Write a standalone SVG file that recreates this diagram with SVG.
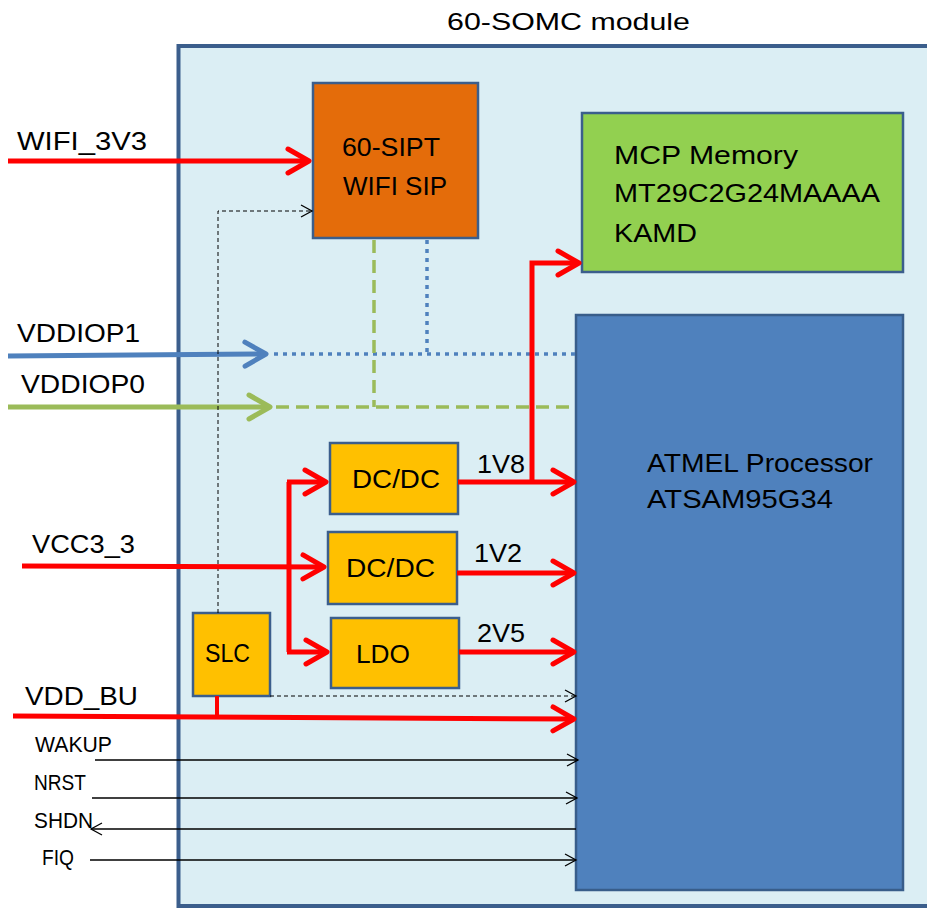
<svg xmlns="http://www.w3.org/2000/svg" width="927" height="909" viewBox="0 0 927 909">
<style>
text{font-family:"Liberation Sans",Arial,sans-serif;fill:#000;}
.big{font-size:26px;}
.sm{font-size:22.5px;}
.box{stroke:#3B5E8C;stroke-width:2.5;}
.red{stroke:#FF0000;stroke-width:5;fill:none;}
.thin{stroke:#000;stroke-width:1.3;fill:none;}
.dash{stroke:#000;stroke-width:1;fill:none;stroke-dasharray:4 3;}
</style>
<defs>
<marker id="aR" markerUnits="userSpaceOnUse" markerWidth="30" markerHeight="30" refX="0" refY="0" orient="auto" overflow="visible"><path d="M-21,-12 L0,0 L-21,12" fill="none" stroke="#FF0000" stroke-width="5" stroke-linecap="round" stroke-linejoin="round"/></marker>
<marker id="aB" markerUnits="userSpaceOnUse" markerWidth="30" markerHeight="30" refX="0" refY="0" orient="auto" overflow="visible"><path d="M-21,-12 L0,0 L-21,12" fill="none" stroke="#4F81BD" stroke-width="5" stroke-linecap="round" stroke-linejoin="round"/></marker>
<marker id="aG" markerUnits="userSpaceOnUse" markerWidth="30" markerHeight="30" refX="0" refY="0" orient="auto" overflow="visible"><path d="M-21,-12 L0,0 L-21,12" fill="none" stroke="#9BBB59" stroke-width="5" stroke-linecap="round" stroke-linejoin="round"/></marker>
<marker id="aK" markerUnits="userSpaceOnUse" markerWidth="20" markerHeight="20" refX="0" refY="0" orient="auto" overflow="visible"><path d="M-11,-6 L0,0 L-11,6" fill="none" stroke="#000" stroke-width="1.3"/></marker>
</defs>
<rect width="927" height="909" fill="#FFFFFF"/>
<g id="module">
<rect x="178.5" y="46" width="760" height="860" fill="#DBEEF4" stroke="#3B5E8C" stroke-width="4"/>
<text x="447" y="30" font-size="24" textLength="243" lengthAdjust="spacingAndGlyphs">60-SOMC module</text>
</g>
<g id="wifi-sip">
<rect class="box" x="313" y="83" width="165" height="155" fill="#E46C0A"/>
<text class="big" x="342" y="156" textLength="98" lengthAdjust="spacingAndGlyphs">60-SIPT</text>
<text class="big" x="343" y="195" textLength="104" lengthAdjust="spacingAndGlyphs">WIFI SIP</text>
</g>
<g id="mcp-memory">
<rect class="box" x="582" y="113" width="321" height="159" fill="#92D050"/>
<text class="big" x="614" y="164" textLength="184" lengthAdjust="spacingAndGlyphs">MCP Memory</text>
<text class="big" x="614" y="202" textLength="266" lengthAdjust="spacingAndGlyphs">MT29C2G24MAAAA</text>
<text class="big" x="614" y="242" textLength="83" lengthAdjust="spacingAndGlyphs">KAMD</text>
</g>
<g id="processor">
<rect x="576" y="315" width="327" height="575" fill="#4F81BD" stroke="#385D8A" stroke-width="2.5"/>
<text class="big" x="647" y="472" textLength="226" lengthAdjust="spacingAndGlyphs">ATMEL Processor</text>
<text class="big" x="647" y="508" textLength="186" lengthAdjust="spacingAndGlyphs">ATSAM95G34</text>
</g>
<g id="dcdc1">
<rect class="box" x="330" y="443" width="128" height="71" fill="#FFC000"/>
<text class="big" x="352" y="488" textLength="88" lengthAdjust="spacingAndGlyphs">DC/DC</text>
</g>
<g id="dcdc2">
<rect class="box" x="328" y="532" width="129" height="72" fill="#FFC000"/>
<text class="big" x="346" y="577" textLength="89" lengthAdjust="spacingAndGlyphs">DC/DC</text>
</g>
<g id="ldo">
<rect class="box" x="331" y="618" width="128" height="70" fill="#FFC000"/>
<text class="big" x="356" y="663" textLength="54" lengthAdjust="spacingAndGlyphs">LDO</text>
</g>
<g id="slc">
<rect class="box" x="193" y="613" width="77" height="83" fill="#FFC000"/>
<text class="big" x="205" y="662" textLength="45" lengthAdjust="spacingAndGlyphs">SLC</text>
</g>
<g id="connectors">
<line class="red" x1="8" y1="161" x2="309" y2="161" marker-end="url(#aR)"/>
<line x1="8" y1="356" x2="266" y2="354" stroke="#4F81BD" stroke-width="5" marker-end="url(#aB)"/>
<path d="M274,354 H576 M427,240 V354" fill="none" stroke="#4F81BD" stroke-width="3.5" stroke-dasharray="4 5"/>
<line x1="8" y1="407" x2="270" y2="407" stroke="#9BBB59" stroke-width="5" marker-end="url(#aG)"/>
<path d="M374,240 V407 M276,407 H576" fill="none" stroke="#9BBB59" stroke-width="3.5" stroke-dasharray="13 7"/>
<path class="dash" d="M218,613 V211 H312" marker-end="url(#aK)"/>
<line class="red" x1="22" y1="566" x2="324" y2="567" marker-end="url(#aR)"/>
<path class="red" d="M289,482 V652"/>
<line class="red" x1="287" y1="482" x2="326" y2="482" marker-end="url(#aR)"/>
<line class="red" x1="287" y1="652" x2="327" y2="652" marker-end="url(#aR)"/>
<line class="red" x1="458" y1="482" x2="574" y2="482" marker-end="url(#aR)"/>
<path class="red" d="M532,482 V263 H579" marker-end="url(#aR)"/>
<line class="red" x1="457" y1="573" x2="574" y2="573" marker-end="url(#aR)"/>
<line class="red" x1="459" y1="652" x2="574" y2="652" marker-end="url(#aR)"/>
<line class="red" x1="13" y1="716" x2="574" y2="719" marker-end="url(#aR)"/>
<line x1="217" y1="696" x2="217" y2="717" stroke="#FF0000" stroke-width="4"/>
<line class="dash" x1="270" y1="696" x2="576" y2="696" marker-end="url(#aK)"/>
<line class="thin" x1="95" y1="760" x2="578" y2="760" marker-end="url(#aK)"/>
<line class="thin" x1="92" y1="798" x2="577" y2="798" marker-end="url(#aK)"/>
<line class="thin" x1="576" y1="829" x2="91" y2="829" marker-end="url(#aK)"/>
<line class="thin" x1="90" y1="860" x2="576" y2="860" marker-end="url(#aK)"/>
</g>
<g id="labels">
<text class="big" x="17" y="150" textLength="130" lengthAdjust="spacingAndGlyphs">WIFI_3V3</text>
<text class="big" x="17" y="342" textLength="123" lengthAdjust="spacingAndGlyphs">VDDIOP1</text>
<text class="big" x="21" y="393" textLength="124" lengthAdjust="spacingAndGlyphs">VDDIOP0</text>
<text class="big" x="32" y="553" textLength="103" lengthAdjust="spacingAndGlyphs">VCC3_3</text>
<text class="big" x="25" y="705" textLength="113" lengthAdjust="spacingAndGlyphs">VDD_BU</text>
<text class="big" x="477" y="473" textLength="48" lengthAdjust="spacingAndGlyphs">1V8</text>
<text class="big" x="474" y="562" textLength="48" lengthAdjust="spacingAndGlyphs">1V2</text>
<text class="big" x="477" y="642" textLength="48" lengthAdjust="spacingAndGlyphs">2V5</text>
<text class="sm" x="35" y="752" textLength="77" lengthAdjust="spacingAndGlyphs">WAKUP</text>
<text class="sm" x="34" y="790" textLength="52" lengthAdjust="spacingAndGlyphs">NRST</text>
<text class="sm" x="34" y="828" textLength="59" lengthAdjust="spacingAndGlyphs">SHDN</text>
<text class="sm" x="42" y="865" textLength="32" lengthAdjust="spacingAndGlyphs">FIQ</text>
</g>
</svg>
